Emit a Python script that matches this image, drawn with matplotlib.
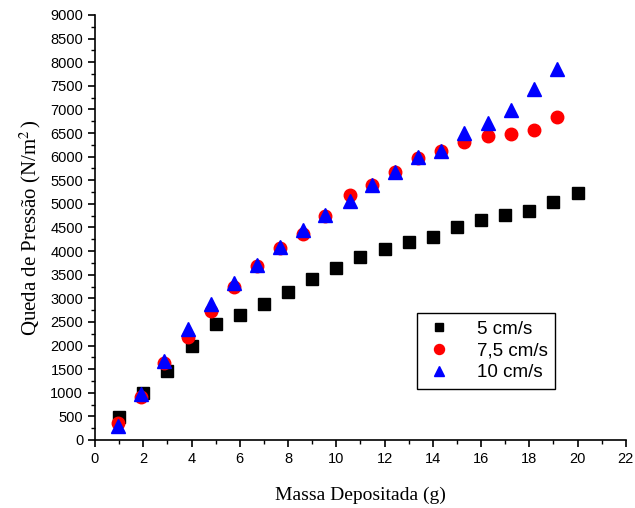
import matplotlib.pyplot as plt
from matplotlib.ticker import MultipleLocator

plt.rcParams['mathtext.fontset'] = 'stix'

# Massa depositada (g) e queda de pressão (N/m2) para cada velocidade
massa_5 = [1, 2, 3, 4, 5, 6, 7, 8, 9, 10, 11, 12, 13, 14, 15, 16, 17, 18, 19, 20]
queda_5 = [480, 1000, 1460, 1980, 2450, 2650, 2870, 3130, 3410, 3640,
           3870, 4050, 4190, 4300, 4520, 4650, 4770, 4850, 5050, 5240]

massa_75 = [0.95, 1.9, 2.85, 3.85, 4.8, 5.75, 6.7, 7.65, 8.6, 9.55,
            10.55, 11.5, 12.45, 13.4, 14.35, 15.3, 16.3, 17.25, 18.2, 19.15]
queda_75 = [350, 920, 1630, 2180, 2730, 3240, 3680, 4060, 4370, 4750,
            5180, 5390, 5670, 5970, 6110, 6300, 6430, 6480, 6570, 6850]

massa_10 = massa_75
queda_10 = [300, 970, 1670, 2340, 2880, 3330, 3700, 4080, 4450, 4770,
            5070, 5400, 5670, 6000, 6130, 6500, 6710, 6990, 7430, 7850]

fig = plt.figure(figsize=(6.35, 5.08), dpi=100)
ax = fig.add_axes([0.1496, 0.1339, 0.836, 0.8366])

ax.plot(massa_5, queda_5, 's', color='black', markersize=8, label='5 cm/s')
ax.plot(massa_75, queda_75, 'o', color='red', markersize=9, label='7,5 cm/s')
ax.plot(massa_10, queda_10, '^', color='blue', markersize=9.5, label='10 cm/s')

ax.set_xlim(0, 22)
ax.set_ylim(0, 9000)
ax.xaxis.set_major_locator(MultipleLocator(2))
ax.xaxis.set_minor_locator(MultipleLocator(1))
ax.yaxis.set_major_locator(MultipleLocator(500))
ax.yaxis.set_minor_locator(MultipleLocator(250))

ax.spines['top'].set_visible(False)
ax.spines['right'].set_visible(False)
ax.spines['left'].set_linewidth(1.2)
ax.spines['bottom'].set_linewidth(1.2)
ax.tick_params(which='major', direction='out', length=5, width=1.2, labelsize=10.5)
ax.tick_params(which='minor', direction='out', length=3, width=1.0)
for lbl in ax.get_xticklabels() + ax.get_yticklabels():
    lbl.set_family('Liberation Sans')

ax.set_xlabel('Massa Depositada (g)', family='Liberation Serif', fontsize=14, labelpad=15)
ax.set_ylabel('Queda de Pressão (N/m$^{2}\\,$)', family='Liberation Serif', fontsize=15, labelpad=5)

leg = ax.legend(loc='upper left', bbox_to_anchor=(0.606, 0.299), borderaxespad=0,
                fancybox=False, edgecolor='black', framealpha=1,
                prop={'family': 'Liberation Sans', 'size': 13.5},
                markerscale=0.8, handlelength=1.6, handletextpad=1.2,
                borderpad=0.4, labelspacing=0.25)
leg.get_frame().set_linewidth(1.0)

fig.savefig('out.png', dpi=100)
